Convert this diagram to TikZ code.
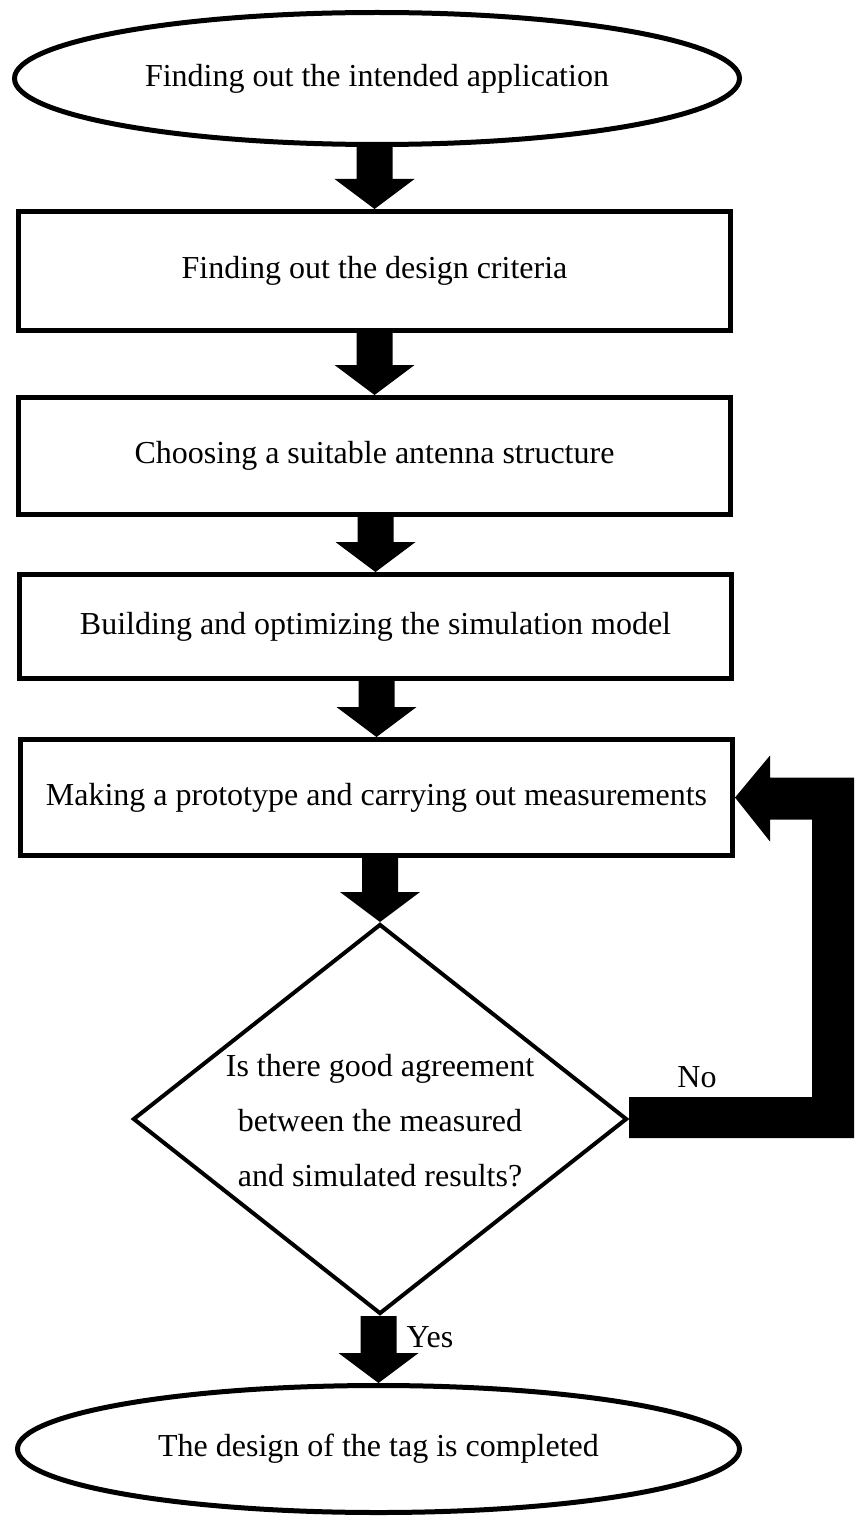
\documentclass[tikz,border=0pt]{standalone}
\usepackage{fontspec}
\setmainfont{Liberation Serif}
\usetikzlibrary{shapes.geometric,calc}
\tikzset{
  txt/.style={font=\fontsize{32}{55}\selectfont},
  box/.style={txt, draw, line width=5pt, minimum width=712pt, inner sep=0pt},
  oval/.style={txt, ellipse, draw, line width=5pt, inner sep=0pt},
  decision/.style={diamond, draw, line width=4pt, inner sep=0pt, minimum width=494pt, minimum height=390pt},
  blockfill/.style={fill=black},
}
\newcommand{\blockdown}[2]{%
  \fill[blockfill] let \p1=(#1.south), \p2=(#2.north) in
    (\x2-18pt,\y1) -- (\x2+18pt,\y1) -- (\x2+18pt,\y2+30pt) -- (\x2+40pt,\y2+30pt)
    -- (\x2,\y2) -- (\x2-40pt,\y2+30pt) -- (\x2-18pt,\y2+30pt) -- cycle;}
\begin{document}
\begin{tikzpicture}[x=1pt,y=-1pt]
\useasboundingbox (0,0) rectangle (854,1517);
\node[oval, minimum width=725pt, minimum height=132pt] (app) at (377,78.5) {Finding out the intended application};
\node[box, minimum height=119pt] (crit) at (374.5,271) {Finding out the design criteria};
\node[box, minimum height=117pt] (struct) at (374.5,456) {Choosing a suitable antenna structure};
\node[box, minimum height=104pt] (sim) at (375.5,626.5) {Building and optimizing the simulation model};
\node[box, minimum height=116pt] (proto) at (376.5,797.5) {Making a prototype and carrying out measurements};
\node[decision] (dec) at (380,1119) {};
\node[txt, align=center] (dectext) at (380,1121) {Is there good agreement\\between the measured\\and simulated results?};
\node[oval, minimum width=722pt, minimum height=127pt] (done) at (378.5,1449) {The design of the tag is completed};
\blockdown{app}{crit}
\blockdown{crit}{struct}
\blockdown{struct}{sim}
\blockdown{sim}{proto}
\blockdown{proto}{dec}
\blockdown{dec}{done}
\fill[blockfill] let \p1=(dec.east), \p2=(proto.east) in
  (\x1,\y1+22pt) -- (812pt,\y1+22pt) -- (812pt,\y2-22pt) -- (\x2+35pt,\y2-22pt)
  -- (\x2+35pt,\y2-44pt) -- (\x2,\y2) -- (\x2+35pt,\y2+42pt) -- (\x2+35pt,\y2+20pt)
  -- (854pt,\y2+20pt) -- (854pt,\y1-19pt) -- (\x1,\y1-19pt) -- cycle;
\node[txt] (no) at (697,1077) {No};
\node[txt] (yes) at (430,1337) {Yes};
\end{tikzpicture}
\end{document}
